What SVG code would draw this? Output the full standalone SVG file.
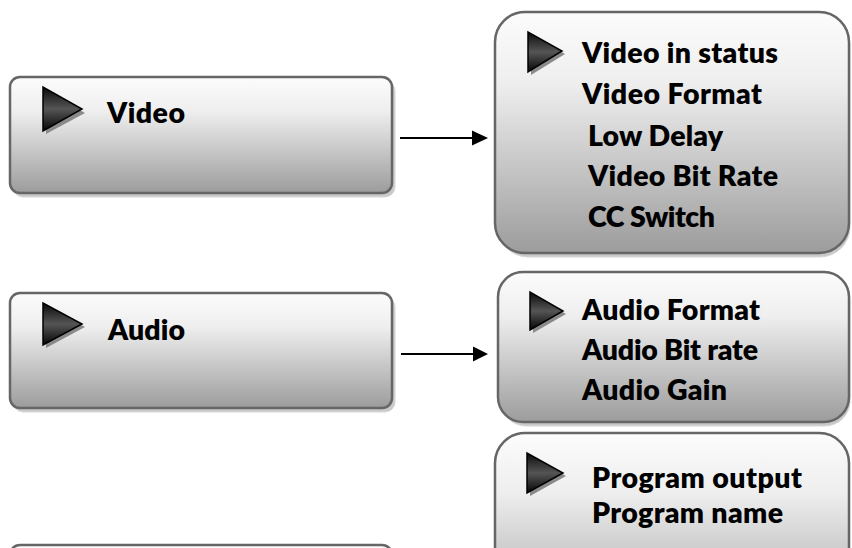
<svg xmlns="http://www.w3.org/2000/svg" width="852" height="548" viewBox="0 0 852 548">
<defs>
<linearGradient id="boxFill" x1="0" y1="0" x2="0" y2="1">
<stop offset="0" stop-color="#fcfcfc"/>
<stop offset="0.3" stop-color="#eeeeee"/>
<stop offset="1" stop-color="#9c9c9c"/>
</linearGradient>
<linearGradient id="triFill" x1="0" y1="0" x2="0" y2="1">
<stop offset="0" stop-color="#0a0a0a"/>
<stop offset="0.5" stop-color="#555"/>
<stop offset="1" stop-color="#050505"/>
</linearGradient>
</defs>
<style>
.box{fill:url(#boxFill);stroke:#666;stroke-width:2.5}
.shadow{fill:#c9c9c9;stroke:#d8d8d8;stroke-width:1}
.tri{fill:url(#triFill);stroke:#000;stroke-width:1.5;stroke-linejoin:miter}
.trish{fill:#8a8a8a}
.lbl{font-family:Lato,"Open Sans","Liberation Sans",sans-serif;font-weight:800;font-size:28.5px;fill:#000}
.conn{stroke:#000;stroke-width:2;fill:none}
.head{fill:#000}
</style>

<g id="node-video">
<rect class="shadow" x="13" y="81" width="382" height="116" rx="10"/>
<rect class="box" x="10" y="77" width="382" height="116" rx="10"/>
<polygon class="trish" points="46,90 46,134 85,113"/>
<polygon class="tri" points="43,87 43,131 82,109"/>
<text class="lbl" x="107" y="123" textLength="78" lengthAdjust="spacing">Video</text>
</g>

<g id="node-audio">
<rect class="shadow" x="13" y="297" width="382" height="115" rx="10"/>
<rect class="box" x="10" y="293" width="382" height="115" rx="10"/>
<polygon class="trish" points="46,306 46,348 85,327"/>
<polygon class="tri" points="43,303 43,345 82,324"/>
<text class="lbl" x="108" y="340" textLength="77" lengthAdjust="spacing">Audio</text>
</g>

<g id="node-third">
<rect class="box" x="10" y="545" width="382" height="100" rx="10"/>
</g>

<g id="node-video-menu">
<rect class="shadow" x="498" y="16" width="352" height="241" rx="30"/>
<rect class="box" x="495" y="12" width="354" height="241" rx="30"/>
<polygon class="trish" points="531,35 531,75 565,54"/>
<polygon class="tri" points="528,32 528,72 562,51"/>
<text class="lbl" x="582" y="63" textLength="196" lengthAdjust="spacing">Video in status</text>
<text class="lbl" x="582" y="104" textLength="180" lengthAdjust="spacing">Video Format</text>
<text class="lbl" x="588" y="146" textLength="135" lengthAdjust="spacing">Low Delay</text>
<text class="lbl" x="588" y="186" textLength="190" lengthAdjust="spacing">Video Bit Rate</text>
<text class="lbl" x="588" y="227" textLength="127" lengthAdjust="spacing">CC Switch</text>
</g>

<g id="node-audio-menu">
<rect class="shadow" x="501" y="276" width="349" height="150" rx="25"/>
<rect class="box" x="498" y="272" width="351" height="150" rx="25"/>
<polygon class="trish" points="533,295 533,333 566,314"/>
<polygon class="tri" points="530,292 530,330 563,311"/>
<text class="lbl" x="582" y="320" textLength="178" lengthAdjust="spacing">Audio Format</text>
<text class="lbl" x="582" y="360" textLength="176" lengthAdjust="spacing">Audio Bit rate</text>
<text class="lbl" x="582" y="400" textLength="145" lengthAdjust="spacing">Audio Gain</text>
</g>

<g id="node-program-menu">
<rect class="box" x="495" y="433" width="354" height="200" rx="30"/>
<polygon class="trish" points="530,456 530,496 566,476"/>
<polygon class="tri" points="527,453 527,493 563,473"/>
<text class="lbl" x="592" y="488" textLength="210" lengthAdjust="spacing">Program output</text>
<text class="lbl" x="592" y="523" textLength="191" lengthAdjust="spacing">Program name</text>
</g>

<g id="connectors">
<line class="conn" x1="400" y1="138" x2="474" y2="138"/>
<polygon class="head" points="472,130.5 488,138 472,145.5"/>
<line class="conn" x1="401" y1="354" x2="475" y2="354"/>
<polygon class="head" points="473,346.5 488,354 473,361.5"/>
</g>
</svg>
